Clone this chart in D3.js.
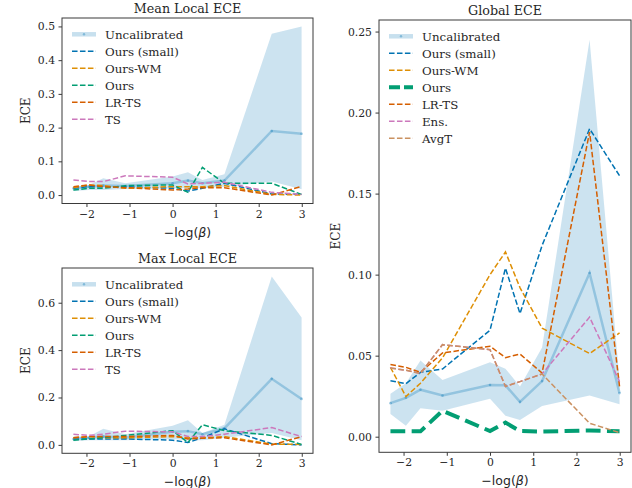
<!DOCTYPE html>
<html lang="en">
<head>
<meta charset="UTF-8">
<title>ECE vs -log(beta)</title>
<script src="https://d3js.org/d3.v7.min.js"></script>
<style>
  body { margin: 0; background: #fff; }
</style>
</head>
<body>
<div class="canvas"></div>
<script>
// -log(beta) positions
const xs = [-2.303, -1.946, -1.609, -1.099, 0, 0.357, 0.693, 1.204, 2.303, 2.996];
const xTicks = [-2, -1, 0, 1, 2, 3];

// Mean Local ECE
const meanUncal   = [0.020, 0.025, 0.028, 0.027, 0.035, 0.043, 0.035, 0.043, 0.190, 0.182];
const meanUncalLo = [0.012, 0.015, 0.015, 0.018, 0.020, 0.020, 0.020, 0.025, 0.040, 0.017];
const meanUncalHi = [0.025, 0.030, 0.050, 0.035, 0.055, 0.068, 0.045, 0.062, 0.478, 0.500];
const meanOursSmall = [0.020, 0.025, 0.025, 0.025, 0.020, 0.012, 0.020, 0.035, 0.003, 0.002];
const meanOursWM    = [0.022, 0.030, 0.028, 0.020, 0.025, 0.025, 0.025, 0.028, 0.002, 0.000];
const meanOurs      = [0.015, 0.020, 0.020, 0.028, 0.030, 0.008, 0.082, 0.035, 0.035, 0.002];
const meanLRTS      = [0.025, 0.030, 0.025, 0.022, 0.015, 0.018, 0.022, 0.022, 0.000, 0.026];
const meanTS        = [0.045, 0.040, 0.040, 0.057, 0.053, 0.033, 0.035, 0.038, 0.008, 0.002];

// Max Local ECE
const maxUncal   = [0.025, 0.030, 0.035, 0.030, 0.055, 0.058, 0.045, 0.070, 0.279, 0.194];
const maxUncalLo = [0.015, 0.020, 0.020, 0.020, 0.025, 0.020, 0.020, 0.030, 0.050, 0.020];
const maxUncalHi = [0.035, 0.035, 0.068, 0.045, 0.081, 0.104, 0.050, 0.085, 0.711, 0.538];
const maxOursSmall = [0.025, 0.025, 0.025, 0.025, 0.020, 0.010, 0.030, 0.068, 0.005, 0.000];
const maxOursWM    = [0.030, 0.035, 0.030, 0.030, 0.035, 0.030, 0.030, 0.035, 0.003, 0.002];
const maxOurs      = [0.020, 0.025, 0.030, 0.040, 0.060, 0.010, 0.085, 0.060, 0.040, 0.002];
const maxLRTS      = [0.030, 0.035, 0.035, 0.035, 0.040, 0.025, 0.028, 0.030, 0.000, 0.035];
const maxTS        = [0.045, 0.040, 0.045, 0.058, 0.055, 0.035, 0.035, 0.045, 0.073, 0.035];

// Global ECE
const globUncal   = [0.0207, 0.0240, 0.0290, 0.0254, 0.0319, 0.0317, 0.0215, 0.0343, 0.1010, 0.0269];
const globUncalLo = [0.0140, 0.0068, 0.0176, 0.0160, 0.0234, 0.0130, 0.0103, 0.0190, 0.0254, 0.0200];
const globUncalHi = [0.0265, 0.0330, 0.0470, 0.0350, 0.0460, 0.0420, 0.0310, 0.0550, 0.2450, 0.0350];
const globOursSmall = [0.0345, 0.0327, 0.0397, 0.0418, 0.0657, 0.1040, 0.0760, 0.1180, 0.1900, 0.1610];
const globOursWM    = [0.0428, 0.0248, 0.0330, 0.0486, 0.1000, 0.1140, 0.0920, 0.0670, 0.0513, 0.0640];
const globOurs      = [0.0033, 0.0033, 0.0033, 0.0160, 0.0035, 0.0087, 0.0035, 0.0032, 0.0038, 0.0033];
const globLRTS      = [0.0445, 0.0428, 0.0397, 0.0517, 0.0558, 0.0488, 0.0510, 0.0393, 0.1880, 0.0310];
const globEns       = [0.0424, 0.0410, 0.0390, 0.0568, 0.0537, 0.0310, 0.0340, 0.0387, 0.0738, 0.0340];
const globAvgT      = [0.0424, 0.0410, 0.0390, 0.0568, 0.0537, 0.0310, 0.0340, 0.0387, 0.0083, 0.0025];

const uncalColor = '#0173B2';
const colors = {
  small: '#0173B2', wm: '#DE8F05', ours: '#029E73', lrts: '#D55E00', ts: '#CC78BC', avgt: '#CA9161'
};
const SERIF = '"DejaVu Serif"';
const SANS = '"DejaVu Sans"';
const INK = '#262626';

const svg = d3.select('.canvas')
  .append('svg')
  .attr('width', 632)
  .attr('height', 488);

function pad(lo, hi) {
  const m = (hi - lo) * 0.05;
  return [lo - m, hi + m];
}

function label(sel, size, fam) {
  return sel.style('font-family', fam || SERIF).style('font-size', size + 'px').style('fill', INK);
}

function drawPanel(p) {
  const x = d3.scaleLinear().domain(pad(d3.min(xs), d3.max(xs))).range([p.left, p.right]);
  const allY = p.uncal.hi.concat(p.uncal.lo, ...p.methods.map(m => m.values));
  const y = d3.scaleLinear().domain(pad(d3.min(allY), d3.max(allY))).range([p.bottom, p.top]);

  const g = svg.append('g');

  // band + uncalibrated line
  const area = d3.area()
    .x((d, i) => x(xs[i]))
    .y0((d, i) => y(p.uncal.lo[i]))
    .y1(d => y(d));
  g.append('path')
    .datum(p.uncal.hi)
    .attr('d', area)
    .attr('fill', uncalColor)
    .attr('fill-opacity', 0.2);

  const line = d3.line().x((d, i) => x(xs[i])).y(d => y(d));
  g.append('path')
    .datum(p.uncal.mean)
    .attr('d', line)
    .attr('fill', 'none')
    .attr('stroke', uncalColor)
    .attr('stroke-opacity', 0.28)
    .attr('stroke-width', 2.5);
  g.selectAll('circle.u')
    .data(p.uncal.mean)
    .enter()
    .append('circle')
    .attr('cx', (d, i) => x(xs[i]))
    .attr('cy', d => y(d))
    .attr('r', 1.3)
    .attr('fill', uncalColor)
    .attr('fill-opacity', 0.35);

  p.methods.forEach(m => {
    const w = m.width || 1.5;
    g.append('path')
      .datum(m.values)
      .attr('d', line)
      .attr('fill', 'none')
      .attr('stroke', m.color)
      .attr('stroke-width', w)
      .attr('stroke-dasharray', `${3.7 * w},${1.6 * w}`);
  });

  // frame
  g.append('rect')
    .attr('x', p.left).attr('y', p.top)
    .attr('width', p.right - p.left).attr('height', p.bottom - p.top)
    .attr('fill', 'none').attr('stroke', '#3a3a3a').attr('stroke-width', 1);

  // axes
  const xAxis = d3.axisBottom(x).tickValues(xTicks).tickSize(3.5).tickPadding(3).tickFormat(d3.format('d'));
  const yAxis = d3.axisLeft(y).tickValues(p.yTicks).tickSize(3.5).tickPadding(3.5).tickFormat(d3.format(p.yFmt));
  const xa = g.append('g').attr('transform', `translate(0,${p.bottom})`).call(xAxis);
  const ya = g.append('g').attr('transform', `translate(${p.left},0)`).call(yAxis);
  [xa, ya].forEach(a => {
    a.select('.domain').remove();
    a.selectAll('line').attr('stroke', '#3a3a3a');
    label(a.selectAll('text'), 10.8);
  });

  // title & labels
  label(g.append('text')
    .attr('x', (p.left + p.right) / 2).attr('y', p.top - 5)
    .attr('text-anchor', 'middle')
    .text(p.title), 12.7);
  if (p.xlabel) {
    const xl = label(g.append('text')
      .attr('x', (p.left + p.right) / 2).attr('y', p.bottom + 33)
      .attr('text-anchor', 'middle'), 12.5, SANS);
    xl.append('tspan').text('−log(');
    xl.append('tspan').style('font-style', 'italic').text('β');
    xl.append('tspan').text(')');
  }
  label(g.append('text')
    .attr('transform', `translate(${p.ylabelX},${(p.top + p.bottom) / 2}) rotate(-90)`)
    .attr('text-anchor', 'middle')
    .text('ECE'), 12);

  // legend
  const lg = g.append('g').attr('transform', `translate(${p.left + 10},${p.top + 16.3})`);
  const rowH = 17;
  const u = lg.append('g');
  u.append('line').attr('x1', 0).attr('x2', 24).attr('y1', 0).attr('y2', 0)
    .attr('stroke', uncalColor).attr('stroke-opacity', 0.22).attr('stroke-width', 4.5);
  u.append('circle').attr('cx', 12).attr('cy', 0).attr('r', 1.2).attr('fill', uncalColor).attr('fill-opacity', 0.35);
  label(u.append('text').attr('x', 33).attr('y', 4.3).text('Uncalibrated'), 11.8);
  p.methods.forEach((m, i) => {
    const w = m.width || 1.5;
    const row = lg.append('g').attr('transform', `translate(0,${(i + 1) * rowH})`);
    row.append('line').attr('x1', 0).attr('x2', 24).attr('y1', 0).attr('y2', 0)
      .attr('stroke', m.color).attr('stroke-width', w)
      .attr('stroke-dasharray', w > 2 ? '11,4' : `${3.7 * w},${1.6 * w}`);
    label(row.append('text').attr('x', 33).attr('y', 4.3).text(m.name), 11.8);
  });
}

drawPanel({
  left: 62, right: 313, top: 18, bottom: 203.5, ylabelX: 29.5,
  title: 'Mean Local ECE', xlabel: true,
  yTicks: [0, 0.1, 0.2, 0.3, 0.4, 0.5], yFmt: '.1f',
  uncal: { mean: meanUncal, lo: meanUncalLo, hi: meanUncalHi },
  methods: [
    { name: 'Ours (small)', values: meanOursSmall, color: colors.small },
    { name: 'Ours-WM', values: meanOursWM, color: colors.wm },
    { name: 'Ours', values: meanOurs, color: colors.ours },
    { name: 'LR-TS', values: meanLRTS, color: colors.lrts },
    { name: 'TS', values: meanTS, color: colors.ts }
  ]
});

drawPanel({
  left: 62, right: 313, top: 268, bottom: 453.3, ylabelX: 29.5,
  title: 'Max Local ECE', xlabel: true,
  yTicks: [0, 0.2, 0.4, 0.6], yFmt: '.1f',
  uncal: { mean: maxUncal, lo: maxUncalLo, hi: maxUncalHi },
  methods: [
    { name: 'Ours (small)', values: maxOursSmall, color: colors.small },
    { name: 'Ours-WM', values: maxOursWM, color: colors.wm },
    { name: 'Ours', values: maxOurs, color: colors.ours },
    { name: 'LR-TS', values: maxLRTS, color: colors.lrts },
    { name: 'TS', values: maxTS, color: colors.ts }
  ]
});

drawPanel({
  left: 379, right: 631, top: 20, bottom: 452.3, ylabelX: 339.5,
  title: 'Global ECE', xlabel: true,
  yTicks: [0, 0.05, 0.10, 0.15, 0.20, 0.25], yFmt: '.2f',
  uncal: { mean: globUncal, lo: globUncalLo, hi: globUncalHi },
  methods: [
    { name: 'Ours (small)', values: globOursSmall, color: colors.small },
    { name: 'Ours-WM', values: globOursWM, color: colors.wm },
    { name: 'Ours', values: globOurs, color: colors.ours, width: 4 },
    { name: 'LR-TS', values: globLRTS, color: colors.lrts },
    { name: 'Ens.', values: globEns, color: colors.ts },
    { name: 'AvgT', values: globAvgT, color: colors.avgt }
  ]
});
</script>
</body>
</html>
